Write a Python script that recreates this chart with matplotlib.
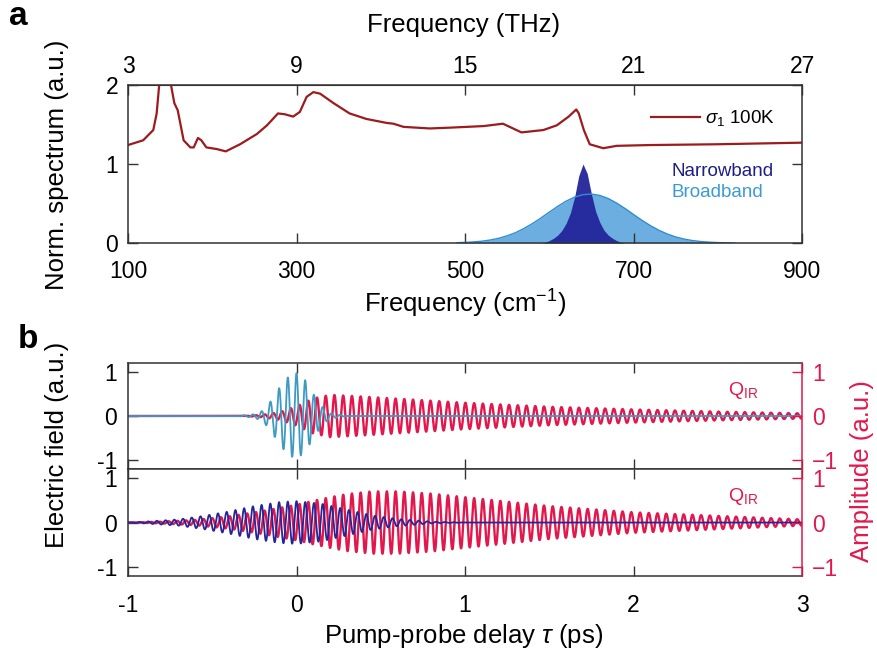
import numpy as np
import matplotlib.pyplot as plt

plt.rcParams['font.family'] = ['Liberation Sans', 'DejaVu Sans']
plt.rcParams['mathtext.fontset'] = 'custom'
plt.rcParams['mathtext.rm'] = 'Liberation Sans'
plt.rcParams['mathtext.it'] = 'Liberation Sans:italic'

# --- panel a: optical conductivity and pump spectra ---
sigma_freq = [100, 118, 130, 134, 137, 141, 146, 151, 155, 159, 166, 174, 178, 183, 187,
              193, 205, 216, 233, 253, 265, 278, 286, 296, 304, 312, 320, 328, 344, 363,
              383, 407, 415, 427, 458, 482, 522, 545, 555, 567, 593, 609, 623, 632, 635,
              641, 648, 664, 680, 720, 800, 900]
sigma_val = [1.24, 1.30, 1.43, 1.64, 2.00, 2.40, 2.40, 2.00, 1.77, 1.68, 1.30, 1.21, 1.21, 1.33, 1.30,
             1.21, 1.19, 1.16, 1.25, 1.38, 1.49, 1.64, 1.63, 1.60, 1.66, 1.85, 1.91, 1.89, 1.77, 1.64,
             1.57, 1.52, 1.51, 1.47, 1.45, 1.46, 1.48, 1.51, 1.46, 1.40, 1.43, 1.49, 1.60, 1.69, 1.64,
             1.43, 1.25, 1.20, 1.23, 1.24, 1.25, 1.27]

broad_freq = [490, 500, 510, 520, 530, 540, 550, 560, 570, 580, 590, 600, 610, 620, 630, 640,
              650, 660, 670, 680, 690, 700, 710, 720, 730, 740, 750, 760, 770, 780, 790, 800,
              810, 820]
broad_val = [0.004, 0.008, 0.014, 0.023, 0.038, 0.060, 0.091, 0.131, 0.184, 0.246, 0.316, 0.391,
             0.464, 0.530, 0.581, 0.612, 0.620, 0.602, 0.563, 0.505, 0.436, 0.361, 0.287, 0.220,
             0.162, 0.114, 0.077, 0.050, 0.031, 0.019, 0.011, 0.006, 0.003, 0.0]

narrow_freq = [590, 595, 600, 605, 610, 615, 620, 625, 630, 635, 640, 645, 650, 655, 660, 665,
               670, 675, 680, 685, 690]
narrow_val = [0.0, 0.01, 0.03, 0.06, 0.10, 0.16, 0.25, 0.38, 0.58, 0.85, 1.0, 0.88, 0.62, 0.40,
              0.26, 0.16, 0.10, 0.06, 0.03, 0.01, 0.0]

cm_ticks = [100, 300, 500, 700, 900]
thz_ticks = [3, 9, 15, 21, 27]


def cm_to_thz(x):
    return x * 3 / 100


def thz_to_cm(x):
    return x * 100 / 3


# --- panel b: pulse / phonon envelopes (carrier read from the fringes) ---
carrier_thz = 19.3
bb_env_t = [-1.0, -0.35, -0.25, -0.2, -0.15, -0.1, -0.05, 0.0, 0.05, 0.1, 0.15, 0.2, 0.3, 3.0]
bb_env_a = [0.0, 0.0, 0.04, 0.12, 0.35, 0.65, 0.88, 0.97, 0.82, 0.50, 0.22, 0.06, 0.0, 0.0]
q1_env_t = [-1.0, -0.3, -0.2, -0.1, 0.0, 0.1, 0.2, 0.4, 0.7, 1.0, 1.5, 2.0, 2.5, 3.0]
q1_env_a = [0.0, 0.0, 0.03, 0.09, 0.22, 0.40, 0.48, 0.44, 0.37, 0.30, 0.21, 0.15, 0.10, 0.06]
nb_env_t = [-1.0, -0.9, -0.7, -0.55, -0.4, -0.25, -0.1, 0.0, 0.15, 0.3, 0.45, 0.6, 0.8, 1.0, 3.0]
nb_env_a = [0.0, 0.02, 0.07, 0.15, 0.25, 0.37, 0.46, 0.48, 0.42, 0.29, 0.16, 0.08, 0.02, 0.0, 0.0]
q2_env_t = [-1.0, -0.8, -0.6, -0.4, -0.2, 0.0, 0.1, 0.2, 0.3, 0.45, 0.6, 0.8, 1.0, 1.5, 2.0,
            2.5, 3.0]
q2_env_a = [0.0, 0.02, 0.06, 0.14, 0.26, 0.40, 0.49, 0.57, 0.64, 0.70, 0.70, 0.65, 0.57, 0.37,
            0.23, 0.15, 0.07]

dark = '#333333'
red = '#e3174b'
maroon = '#9b1b1e'
cyan = '#3d9bc2'
navy = '#23259a'

fig = plt.figure(figsize=(8.78, 6.64), dpi=100)

ax = fig.add_axes([0.1458, 0.634, 0.7677, 0.238])
ax.fill_between(broad_freq, broad_val, color='#5ba5dc', alpha=0.9, lw=0)
ax.plot(broad_freq, broad_val, color='#2f8ccf', lw=1)
ax.fill_between(narrow_freq, narrow_val, color=navy, alpha=0.95, lw=0)
ax.plot(sigma_freq, sigma_val, color=maroon, lw=1.6, label=r'$\sigma_1$ 100K')
ax.set_xlim(100, 900)
ax.set_ylim(0, 2)
ax.set_xticks(cm_ticks)
ax.set_yticks([0, 1, 2])
ax.tick_params(direction='in', length=7, width=1, labelsize=16.5, color=dark,
               right=True, top=False)
ax.tick_params(axis='x', pad=12)
ax.tick_params(axis='y', pad=7)
for s in ax.spines.values():
    s.set_color(dark)
    s.set_linewidth(1.1)
leg = ax.legend(loc='upper right', bbox_to_anchor=(0.985, 0.96), frameon=False,
                fontsize=13.5, handlelength=2.6, handletextpad=0.3)
ax.text(0.807, 0.45, 'Narrowband', transform=ax.transAxes, color='#1e1f86', fontsize=13.5,
        va='center')
ax.text(0.807, 0.32, 'Broadband', transform=ax.transAxes, color='#3a9ad6', fontsize=13.5,
        va='center')

sec = ax.secondary_xaxis('top', functions=(cm_to_thz, thz_to_cm))
sec.set_xticks(thz_ticks)
sec.tick_params(direction='in', length=7, width=1, labelsize=16.5, color=dark, pad=5)
sec.spines['top'].set_color(dark)

fig.text(0.528, 0.962, 'Frequency (THz)', ha='center', va='center', fontsize=18.5)
fig.text(0.530, 0.543, 'Frequency (cm$^{-1}$)', ha='center', va='center', fontsize=18.5)
fig.text(0.065, 0.752, 'Norm. spectrum (a.u.)', ha='center', va='center', rotation=90,
         fontsize=18.5)
fig.text(0.01, 0.975, 'a', fontsize=24, fontweight='bold', va='center')
fig.text(0.02, 0.488, 'b', fontsize=24, fontweight='bold', va='center')

# --- panel b ---
t = np.linspace(-1, 3, 24000)
w = 2 * np.pi * carrier_thz
bb = np.interp(t, bb_env_t, bb_env_a) * np.cos(w * t)
q1 = np.interp(t, q1_env_t, q1_env_a) * np.sin(w * t - 0.6)
nb = np.interp(t, nb_env_t, nb_env_a) * np.cos(w * t)
q2 = np.interp(t, q2_env_t, q2_env_a) * np.sin(w * t - 0.6)

ax1 = fig.add_axes([0.1458, 0.2937, 0.7677, 0.1596])
ax2 = fig.add_axes([0.1458, 0.1325, 0.7677, 0.1611], sharex=ax1)
for a, pulse, pcol, q in [(ax1, bb, cyan, q1), (ax2, nb, navy, q2)]:
    a.plot(t, q, color=red, lw=1.7)
    a.plot(t, pulse, color=pcol, lw=1.3)
    a.set_xlim(-1, 3)
    a.set_ylim(-1.2, 1.2)
    a.set_yticks([-1, 0, 1])
    a.set_xticks([-1, 0, 1, 2, 3])
    a.tick_params(direction='in', length=7, width=1, labelsize=16.5, color=dark,
                  top=True, right=False)
    a.tick_params(axis='x', pad=13)
    a.tick_params(axis='y', pad=8)
    for s in a.spines.values():
        s.set_color(dark)
        s.set_linewidth(1.1)
    a.spines['right'].set_visible(False)
    r = a.twinx()
    r.set_ylim(-1.2, 1.2)
    r.set_yticks([-1, 0, 1])
    r.tick_params(direction='in', length=7, width=1, labelsize=16.5, colors=red, pad=7)
    r.spines['right'].set_color(red)
    r.spines['right'].set_linewidth(1.1)
    for k in ['left', 'top', 'bottom']:
        r.spines[k].set_visible(False)
    a.text(0.89, 0.74, r'Q$_{\mathrm{IR}}$', transform=a.transAxes, color=red, fontsize=14,
           va='center')
ax1.tick_params(labelbottom=False)
ax2.set_xticklabels(['-1', '0', '1', '2', '3'])
ax2.set_yticklabels(['-1', '0', '1'])
ax1.set_yticklabels(['-1', '0', '1'])

fig.text(0.528, 0.042, r'Pump-probe delay $\tau$ (ps)', ha='center', va='center', fontsize=18.5)
fig.text(0.065, 0.33, 'Electric field (a.u.)', ha='center', va='center', rotation=90,
         fontsize=18.5)
fig.text(0.982, 0.29, 'Amplitude (a.u.)', ha='center', va='center', rotation=90,
         fontsize=18.5, color=red)

fig.savefig('out.png', dpi=100)
